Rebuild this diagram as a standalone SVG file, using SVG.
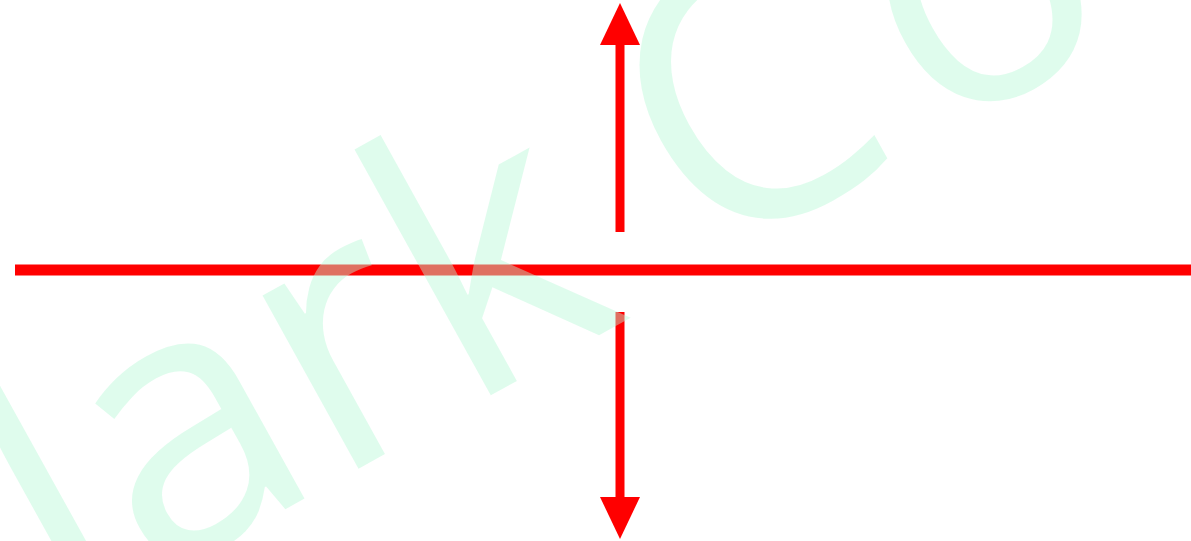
<svg xmlns="http://www.w3.org/2000/svg" width="1191" height="541" viewBox="0 0 1191 541">
  <style>
    .line { stroke: #ff0000; fill: none; }
    .wm { font-family: "Open Sans", "Liberation Sans", sans-serif; font-size: 370px; fill: rgb(185,248,215); fill-opacity: 0.45; }
  </style>
  <defs>
    <marker id="head" viewBox="0 0 42 40" markerWidth="42" markerHeight="40" refX="0" refY="20" orient="auto" markerUnits="userSpaceOnUse">
      <path d="M0,0 L42,20 L0,40 Z" fill="#ff0000"/>
    </marker>
  </defs>
  <rect width="1191" height="541" fill="#ffffff"/>
  <g id="connectors">
    <line class="line" x1="15" y1="270" x2="1191" y2="270" stroke-width="11"/>
    <line class="line" x1="620" y1="232" x2="620" y2="45" stroke-width="9" marker-end="url(#head)"/>
    <line class="line" x1="620" y1="312" x2="620" y2="497" stroke-width="9" marker-end="url(#head)"/>
  </g>
  <g id="watermark">
    <text class="wm" transform="translate(-140,745) rotate(-29)" x="0" y="0">Mark<tspan dx="87" dy="-8">C</tspan><tspan dx="30">o</tspan></text>
  </g>
</svg>
